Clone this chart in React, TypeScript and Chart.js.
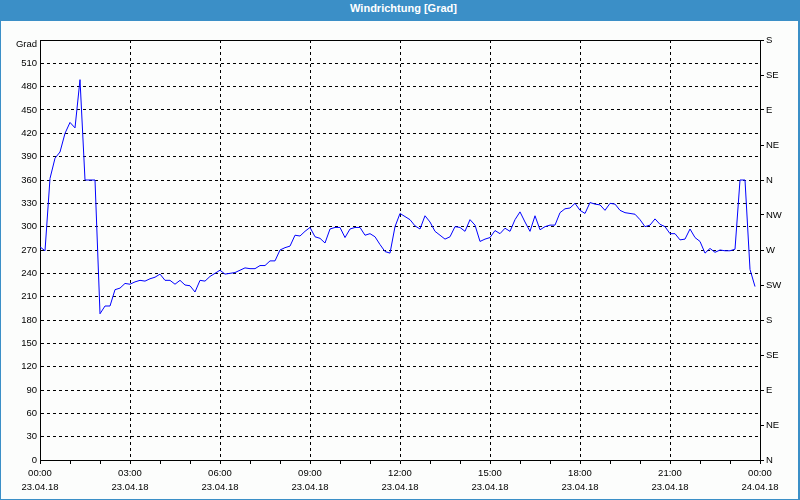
import React, { useEffect, useRef } from 'react';
import { Chart, registerables } from 'chart.js';

Chart.register(...registerables);

// ---- data ----
const titleText = 'Windrichtung [Grad]';
const yUnitLabel = 'Grad';
const sampleStepMinutes = 10;
// wind direction in degrees, one sample every 10 minutes from 23.04.18 00:00
const windDirection = [
  274, 269, 362, 388, 396, 420, 434, 427, 489, 360,
  360, 360, 188, 198, 198, 219, 221, 227, 226, 229,
  231, 230, 233, 235, 239, 231, 231, 226, 231, 225,
  224, 216, 231, 230, 236, 240, 244, 239, 240, 241,
  244, 247, 246, 246, 250, 250, 256, 256, 270, 273,
  275, 289, 288, 294, 299, 287, 285, 279, 297, 299,
  299, 286, 297, 299, 299, 289, 291, 287, 277, 268,
  266, 300, 317, 313, 309, 301, 297, 314, 306, 294,
  289, 284, 287, 300, 299, 294, 309, 302, 281, 284,
  286, 295, 291, 298, 294, 309, 319, 306, 294, 314,
  296, 300, 302, 302, 318, 323, 324, 330, 321, 317,
  331, 329, 328, 321, 330, 329, 321, 318, 317, 316,
  309, 300, 302, 310, 303, 300, 291, 291, 283, 284,
  297, 286, 281, 266, 272, 267, 270, 269, 269, 271,
  360, 360, 245, 223,
];
const xTickTimes = ['00:00', '03:00', '06:00', '09:00', '12:00', '15:00', '18:00', '21:00', '00:00'];
const xTickDates = ['23.04.18', '23.04.18', '23.04.18', '23.04.18', '23.04.18', '23.04.18', '23.04.18', '23.04.18', '24.04.18'];
const compassLabels = ['N', 'NE', 'E', 'SE', 'S', 'SW', 'W', 'NW', 'N', 'NE', 'E', 'SE', 'S'];
const yMin = 0;
const yMax = 540;
const yStep = 30;
const compassStep = 45;
const xMaxMinutes = 1440;
const minorTickMinutes = 60;
const majorTickMinutes = 180;

const FONT = "'Liberation Sans', Arial, sans-serif";

const framePlugin = {
  id: 'frameTop',
  afterDraw(chart: any) {
    const { ctx, chartArea } = chart;
    ctx.save();
    ctx.strokeStyle = '#000';
    ctx.lineWidth = 1;
    ctx.setLineDash([]);
    ctx.beginPath();
    const y = Math.round(chartArea.top) + 0.5;
    ctx.moveTo(Math.round(chartArea.left), y);
    ctx.lineTo(Math.round(chartArea.right) + 1, y);
    ctx.stroke();
    ctx.restore();
  },
};

export default function App() {
  const canvasRef = useRef<HTMLCanvasElement | null>(null);

  useEffect(() => {
    if (!canvasRef.current) return;
    const points = windDirection.map((v, i) => ({ x: i * sampleStepMinutes, y: v }));
    const chart = new Chart(canvasRef.current, {
      type: 'line',
      data: {
        datasets: [
          {
            data: points,
            borderColor: '#0000ff',
            borderWidth: 1,
            pointRadius: 0,
            tension: 0,
            fill: false,
            yAxisID: 'y',
          },
        ],
      },
      plugins: [framePlugin],
      options: {
        animation: false,
        responsive: false,
        devicePixelRatio: 1,
        layout: { padding: { top: 19, left: 0, right: 0, bottom: 0 } },
        plugins: {
          legend: { display: false },
          tooltip: { enabled: false },
          title: { display: false },
        },
        scales: {
          x: {
            type: 'linear',
            min: 0,
            max: xMaxMinutes,
            ticks: {
              stepSize: minorTickMinutes,
              autoSkip: false,
              maxRotation: 0,
              minRotation: 0,
              padding: 2,
              color: '#000',
              font: { family: FONT, size: 9.5, lineHeight: '14px' },
              callback: (v: any) => {
                const n = Number(v);
                if (n % majorTickMinutes !== 0) return '';
                const k = n / majorTickMinutes;
                return [xTickTimes[k], xTickDates[k]];
              },
            },
            grid: {
              color: (c: any) => {
                const val = c.tick ? c.tick.value : -1;
                return val % majorTickMinutes === 0 && val > 0 && val < xMaxMinutes ? '#000' : 'rgba(0,0,0,0)';
              },
              tickColor: '#000',
              tickLength: 4,
              lineWidth: 1,
              tickBorderDash: [],
            },
            border: { display: true, color: '#000', width: 1, dash: [3, 3] },
            afterFit: (s: any) => {
              s.height = 39;
            },
          },
          y: {
            position: 'left',
            min: yMin,
            max: yMax,
            ticks: {
              stepSize: yStep,
              padding: 3,
              color: '#000',
              font: { family: FONT, size: 9.5, lineHeight: 1 },
              callback: (v: any) => (Number(v) === yMax ? ['', yUnitLabel] : String(v)),
            },
            grid: {
              color: (c: any) => {
                const val = c.tick ? c.tick.value : -1;
                return val > yMin && val < yMax ? '#000' : 'rgba(0,0,0,0)';
              },
              drawTicks: false,
              lineWidth: 1,
            },
            border: { display: true, color: '#000', width: 1, dash: [3, 3] },
            afterFit: (s: any) => {
              s.width = 39;
            },
          },
          y2: {
            position: 'right',
            min: yMin,
            max: yMax,
            ticks: {
              stepSize: compassStep,
              padding: 2,
              color: '#000',
              font: { family: FONT, size: 9.5, lineHeight: 1 },
              callback: (v: any) => compassLabels[Math.round(Number(v) / compassStep)],
            },
            grid: {
              drawOnChartArea: false,
              drawTicks: true,
              tickLength: 4,
              tickColor: '#000',
              color: '#000',
            },
            border: { display: true, color: '#000', width: 1 },
            afterFit: (s: any) => {
              s.width = 38;
            },
          },
        },
      } as any,
    });
    return () => chart.destroy();
  }, []);

  return (
    <div
      style={{
        position: 'absolute',
        left: 0,
        top: 0,
        width: 800,
        height: 500,
        background: '#3b8fc7',
        overflow: 'hidden',
      }}
    >
      <div
        style={{
          height: 21,
          lineHeight: '17px',
          textAlign: 'center',
          paddingLeft: 7,
          color: '#ffffff',
          fontFamily: FONT,
          fontWeight: 'bold',
          fontSize: 11,
        }}
      >
        {titleText}
      </div>
      <div
        style={{
          position: 'absolute',
          left: 1,
          top: 21,
          width: 797,
          height: 478,
          background: '#fcfdfc',
        }}
      >
        <canvas ref={canvasRef} width={797} height={478} style={{ display: 'block' }} />
      </div>
    </div>
  );
}
